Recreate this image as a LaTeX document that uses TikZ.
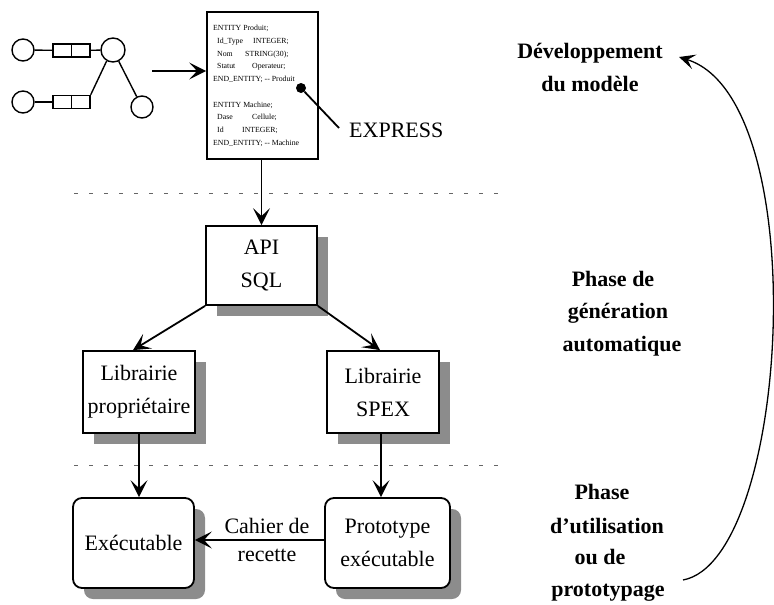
\documentclass[tikz,border=0pt]{standalone}
\usepackage{fontspec}
\setmainfont{Liberation Serif}
\usetikzlibrary{arrows.meta,calc,shadows}
\begin{document}
\begin{tikzpicture}[x=1pt,y=-1pt,
  body/.style={font=\fontsize{22}{33}\selectfont},
  box/.style={draw, line width=1.8pt, fill=white, align=center, inner sep=0, body,
    drop shadow={shadow xshift=11pt, shadow yshift=-11pt, fill=black!45, opacity=1}},
  rbox/.style={box, rounded corners=9pt},
  arr/.style={line width=1.8pt, -{Stealth[length=17pt,width=17pt,inset=8pt]}},
  doct/.style={font=\fontsize{7.8}{9}\selectfont, anchor=base west, inner sep=0},
  side/.style={font=\fontsize{22}{26}\selectfont\bfseries, anchor=base, inner sep=0},
  lbl/.style={font=\fontsize{22}{26}\selectfont, anchor=base, inner sep=0},
  gcirc/.style={draw, circle, line width=1.4pt, inner sep=0},
  grect/.style={draw, rectangle, line width=1.4pt, minimum width=37pt, minimum height=13pt, inner sep=0},
  gline/.style={line width=1.4pt},
  sep/.style={draw=black!60, line width=1pt, dash pattern=on 4pt off 11pt}
]
\useasboundingbox (0,0) rectangle (774,605);

% left graph
\node[gcirc, minimum size=22pt] (c1) at (23,50) {};
\node[grect] (r1) at (71.5,50.5) {};
\node[gcirc, minimum size=24pt] (c2) at (113,50) {};
\node[gcirc, minimum size=22pt] (c3) at (23,102) {};
\node[grect] (r2) at (71.5,102) {};
\node[gcirc, minimum size=22pt] (c4) at (142,107) {};
\draw[gline] (r1.north) -- (r1.south);
\draw[gline] (r2.north) -- (r2.south);
\draw[gline] (c1) -- (r1);
\draw[gline] (r1) -- (c2);
\draw[gline] (c3) -- (r2);
\draw[gline] (r2.north east) -- (c2.240);
\draw[gline] (c2) -- (c4);

% EXPRESS document
\node[draw, line width=1.8pt, minimum width=111pt, minimum height=147pt, inner sep=0] (doc) at (262.5,85.5) {};
\coordinate (gstart) at (152,71);
\draw[arr] (gstart) -- (doc.west |- gstart);
\node[doct] (d1) at (213,30.5) {ENTITY Produit;};
\node[doct] (d2) at (217,43.3) {\makebox[36pt][l]{Id\_Type}INTEGER;};
\node[doct] (d3) at (217,56.1) {\makebox[28pt][l]{Nom}STRING(30);};
\node[doct] (d4) at (217,68.9) {\makebox[35pt][l]{Statut}Operateur;};
\node[doct] (d5) at (213,81.7) {END\_ENTITY; -{}- Produit};
\node[doct] (d6) at (213,107) {ENTITY Machine;};
\node[doct] (d7) at (217,119.8) {\makebox[35pt][l]{Dase}Cellule;};
\node[doct] (d8) at (217,132.6) {\makebox[25pt][l]{Id}INTEGER;};
\node[doct] (d9) at (213,145.4) {END\_ENTITY; -{}- Machine};
\node[circle, fill, minimum size=10pt, inner sep=0] (dot) at (301,88) {};
\coordinate (pend) at (339,128);
\draw[line width=1.8pt] (dot) -- (pend);
\node[body, anchor=west, inner sep=0] (express) at (349,130) {EXPRESS};

% separators
\coordinate (s1a) at (74,193); \coordinate (s1b) at (500,193);
\coordinate (s2a) at (74,465); \coordinate (s2b) at (500,465);
\draw[sep] (s1a) -- (s1b);
\draw[sep] (s2a) -- (s2b);

% boxes
\node[box, minimum width=111pt, minimum height=79pt] (api) at (261.5,265.5) {API\\SQL};
\node[box, minimum width=112pt, minimum height=82pt] (libp) at (139,392) {Librairie\\propriétaire};
\node[box, minimum width=112pt, minimum height=82pt] (libs) at (383,392) {Librairie\\SPEX};
\node[rbox, minimum width=121pt, minimum height=90pt] (exe) at (133.5,543) {Exécutable};
\node[rbox, minimum width=125pt, minimum height=90pt] (proto) at (387.5,543) {Prototype\\exécutable};

\draw[arr] (doc.south -| api.north) -- (api.north);
\draw[arr] (api.south west) -- ([xshift=-6pt]libp.north);
\draw[arr] (api.south east) -- ([xshift=-3pt]libs.north);
\draw[arr] (libp.south) -- (libp.south |- exe.north);
\draw[arr] ([xshift=-2pt]libs.south) -- ([xshift=-2pt]libs.south |- proto.north);
\draw[arr] ([yshift=3pt]proto.west) -- ([yshift=3pt]exe.east);
\node[lbl] (cah1) at (267,533) {Cahier de};
\node[lbl] (cah2) at (267,561) {recette};

% right side
\node[side] (t1) at (590,58) {Développement};
\node[side] (t2) at (590,91) {du modèle};
\node[side] (t3) at (613,286) {Phase de};
\node[side] (t4) at (618,318) {génération};
\node[side] (t5) at (622,351) {automatique};
\node[side] (t6) at (602,499) {Phase};
\node[side] (t7) at (607,533) {d'utilisation};
\node[side] (t8) at (600,564) {ou de};
\node[side] (t9) at (608,596) {prototypage};
\coordinate (cs) at (683,580);
\coordinate (ce) at (679,57);
\draw[line width=1.3pt, -{Stealth[length=16pt,width=15pt,inset=7pt]}] (cs) .. controls (790,560) and (815,100) .. (ce);
\end{tikzpicture}
\end{document}
